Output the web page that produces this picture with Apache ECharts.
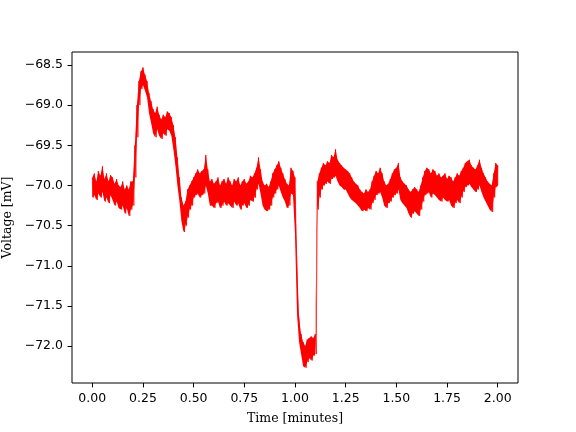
<!DOCTYPE html>
<html>
<head>
<meta charset="utf-8">
<script src="https://cdn.jsdelivr.net/npm/echarts@6/dist/echarts.min.js"></script>
<style>html,body{margin:0;padding:0;background:#fff}#c{width:576px;height:432px}</style>
</head>
<body>
<div id="c"></div>
<script>
// Sample time step (minutes) between envelope columns
const timeStep = 0.01;
// Upper edge of the noisy trace (mV), one per time column
const voltageHigh = [
-69.90,-69.85,-69.95,-69.82,-69.88,-69.76,-69.92,-69.85,-69.95,-69.87,
-69.90,-69.98,-69.92,-70.00,-70.02,-69.95,-70.05,-70.00,-70.05,-69.95,
-69.95,-69.50,-69.00,-68.70,-68.58,-68.53,-68.62,-68.70,-68.85,-68.95,
-69.05,-69.10,-69.02,-69.12,-69.18,-69.12,-69.15,-69.08,-69.10,-69.15,
-69.25,-69.40,-69.65,-69.90,-70.15,-70.25,-70.20,-70.05,-70.00,-69.95,
-69.90,-69.85,-69.80,-69.85,-69.82,-69.80,-69.62,-69.80,-69.95,-69.92,
-69.98,-69.95,-69.90,-70.00,-69.95,-69.92,-69.98,-69.90,-69.95,-70.00,
-69.92,-69.95,-69.90,-70.00,-69.95,-69.92,-69.98,-69.95,-69.88,-69.90,
-69.85,-69.78,-69.65,-69.80,-69.95,-70.00,-69.98,-70.02,-69.95,-69.85,
-69.80,-69.75,-69.70,-69.78,-69.85,-69.92,-69.98,-70.00,-69.78,-69.82,
-69.90,-71.00,-71.65,-71.85,-71.95,-72.00,-71.92,-71.90,-71.88,-71.90,
-71.85,-69.95,-69.85,-69.78,-69.72,-69.75,-69.70,-69.72,-69.62,-69.65,
-69.55,-69.68,-69.72,-69.75,-69.78,-69.80,-69.82,-69.85,-69.90,-69.95,
-69.98,-70.00,-70.05,-70.08,-70.10,-70.05,-70.08,-70.05,-69.95,-69.88,
-69.82,-69.85,-69.78,-69.85,-69.95,-70.00,-69.98,-69.92,-69.85,-69.80,
-69.78,-69.72,-69.90,-69.95,-69.98,-70.00,-70.05,-70.08,-70.05,-70.02,
-70.05,-70.08,-70.00,-69.90,-69.82,-69.78,-69.80,-69.85,-69.80,-69.82,
-69.88,-69.85,-69.90,-69.88,-69.85,-69.92,-69.88,-69.90,-69.95,-69.90,
-69.85,-69.88,-69.82,-69.78,-69.72,-69.70,-69.68,-69.75,-69.78,-69.80,
-69.75,-69.68,-69.78,-69.85,-69.90,-69.95,-69.98,-70.00,-69.85,-69.72,
-69.75
];
// Lower edge of the noisy trace (mV), one per time column
const voltageLow = [
-70.15,-70.12,-70.18,-70.10,-70.15,-70.08,-70.20,-70.15,-70.22,-70.12,
-70.18,-70.25,-70.20,-70.28,-70.30,-70.25,-70.35,-70.28,-70.38,-70.30,
-70.25,-69.90,-69.40,-69.00,-68.80,-68.75,-68.82,-68.90,-69.10,-69.22,
-69.35,-69.40,-69.30,-69.38,-69.42,-69.35,-69.38,-69.30,-69.32,-69.38,
-69.55,-69.75,-70.00,-70.20,-70.45,-70.58,-70.50,-70.40,-70.30,-70.25,
-70.15,-70.12,-70.10,-70.15,-70.12,-70.10,-70.00,-70.10,-70.25,-70.25,
-70.28,-70.22,-70.20,-70.28,-70.25,-70.20,-70.25,-70.22,-70.25,-70.28,
-70.20,-70.25,-70.22,-70.30,-70.25,-70.22,-70.28,-70.25,-70.18,-70.20,
-70.15,-70.05,-69.98,-70.10,-70.25,-70.30,-70.32,-70.30,-70.25,-70.15,
-70.10,-70.05,-70.00,-70.08,-70.15,-70.20,-70.28,-70.25,-70.10,-70.12,
-70.60,-71.60,-71.95,-72.10,-72.25,-72.27,-72.20,-72.15,-72.18,-72.12,
-72.10,-70.30,-70.15,-70.05,-70.00,-69.98,-69.95,-69.98,-69.92,-69.90,
-69.88,-69.95,-70.00,-70.02,-70.05,-70.05,-70.10,-70.15,-70.18,-70.20,
-70.22,-70.25,-70.28,-70.32,-70.30,-70.32,-70.28,-70.30,-70.22,-70.18,
-70.12,-70.10,-70.08,-70.15,-70.25,-70.28,-70.22,-70.20,-70.15,-70.12,
-70.10,-70.05,-70.18,-70.22,-70.25,-70.28,-70.35,-70.40,-70.35,-70.32,
-70.35,-70.38,-70.30,-70.20,-70.12,-70.10,-70.08,-70.15,-70.10,-70.12,
-70.15,-70.18,-70.20,-70.15,-70.18,-70.20,-70.18,-70.25,-70.28,-70.22,
-70.18,-70.22,-70.15,-70.08,-70.02,-70.00,-69.98,-70.02,-70.05,-70.08,
-70.05,-70.00,-70.08,-70.15,-70.20,-70.25,-70.30,-70.33,-70.15,-70.02,
-70.00
];
const xTicks = [0, 0.25, 0.5, 0.75, 1.0, 1.25, 1.5, 1.75, 2.0];
const yTicks = [-72.0, -71.5, -71.0, -70.5, -70.0, -69.5, -69.0, -68.5];

const times = voltageHigh.map((_, i) => i * timeStep);
// Zigzag trace (upper then lower edge) for the jagged texture
const trace = [];
for (let i = 0; i < times.length; i++) {
  trace.push([times[i], voltageHigh[i]]);
  trace.push([i < times.length - 1 ? times[i] + timeStep / 2 : times[i], voltageLow[i]]);
}

const chart = echarts.init(document.getElementById('c'), null, {renderer: 'canvas'});
chart.setOption({
  animation: false,
  grid: {left: 72, top: 52, width: 446, height: 331, containLabel: false, outerBoundsMode: 'none',
    show: true, borderColor: '#000', borderWidth: 1, backgroundColor: 'transparent', z: 5},
  xAxis: {
    type: 'value', min: -0.1, max: 2.1,
    name: 'Time [minutes]', nameLocation: 'middle', nameGap: 29,
    nameTextStyle: {fontFamily: 'DejaVu Serif', fontSize: 12.5, color: '#000'},
    axisLine: {show: false, onZero: false},
    splitLine: {show: false},
    axisTick: {show: true, length: 4.4, lineStyle: {color: '#000'}, customValues: xTicks},
    axisLabel: {margin: 9, fontFamily: 'DejaVu Sans', fontSize: 12.5, color: '#000', customValues: xTicks,
      formatter: v => (v < 0 ? '\u2212' : '') + Math.abs(v).toFixed(2)}
  },
  yAxis: {
    type: 'value', min: -72.46, max: -68.338,
    name: 'Voltage [mV]', nameLocation: 'middle', nameGap: 55,
    nameTextStyle: {fontFamily: 'DejaVu Serif', fontSize: 12.5, color: '#000'},
    axisLine: {show: false, onZero: false},
    splitLine: {show: false},
    axisTick: {show: true, length: 4.4, lineStyle: {color: '#000'}, customValues: yTicks},
    axisLabel: {margin: 9, fontFamily: 'DejaVu Sans', fontSize: 12.5, color: '#000', customValues: yTicks,
      formatter: v => (v < 0 ? '\u2212' : '') + Math.abs(v).toFixed(1)}
  },
  series: [
    {
      type: 'custom', coordinateSystem: 'cartesian2d', silent: true, clip: true, z: 1,
      data: [[times[0], voltageHigh[0]]],
      encode: {x: 0, y: 1},
      renderItem: (params, api) => {
        const pts = [];
        for (let i = 0; i < times.length; i++) pts.push(api.coord([times[i], voltageHigh[i]]));
        for (let i = times.length - 1; i >= 0; i--) pts.push(api.coord([times[i], voltageLow[i]]));
        return {type: 'polygon', shape: {points: pts}, style: {fill: '#ff0000', stroke: null}};
      }
    },
    {type: 'line', data: trace, showSymbol: false, symbol: 'none',
     lineStyle: {color: '#ff0000', width: 0.8}, sampling: null, silent: true, z: 2}
  ]
});
</script>
</body>
</html>
